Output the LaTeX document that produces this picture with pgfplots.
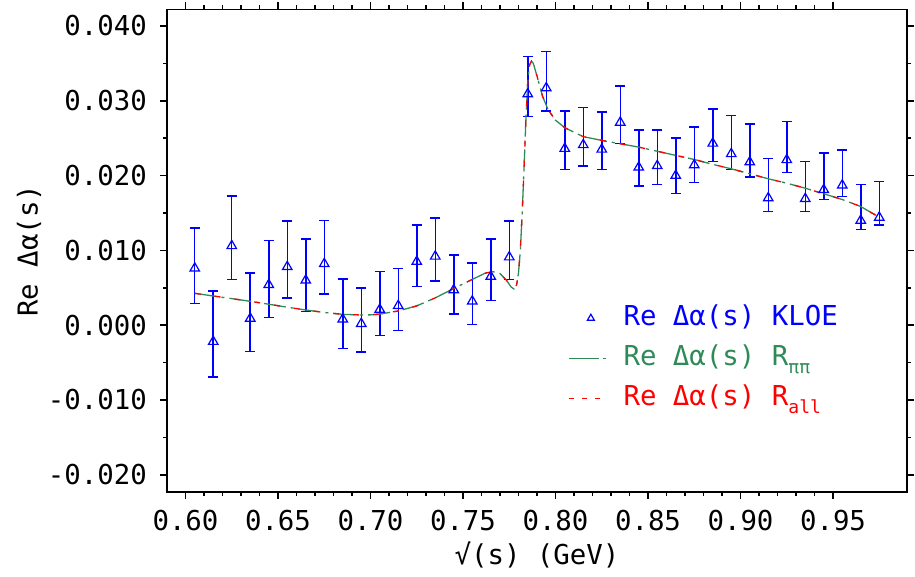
\documentclass[border=0pt]{standalone}
\usepackage{pgfplots}
\pgfplotsset{compat=1.18}
\usepackage{pgfplotstable}
\usepackage{fontspec}
\setmainfont{DejaVu Sans Mono}
\definecolor{kblue}{RGB}{0,0,255}
\definecolor{kgreen}{RGB}{46,139,87}
\definecolor{kred}{RGB}{255,0,0}
\newcommand{\sub}[1]{\raisebox{-0.3em}{\fontsize{18}{18}\selectfont #1}}

\pgfplotstableread{
x y ep em
0.605 0.0076 0.0054 0.0047
0.615 -0.0022 0.0068 0.0047
0.625 0.0106 0.0067 0.0045
0.635 0.0009 0.0061 0.0044
0.645 0.0054 0.0059 0.0044
0.655 0.0078 0.0061 0.0042
0.665 0.0060 0.0055 0.0042
0.675 0.0082 0.0058 0.0040
0.685 0.0008 0.0054 0.0039
0.695 0.0002 0.0048 0.0038
0.705 0.0021 0.0051 0.0035
0.715 0.0026 0.0050 0.0033
0.725 0.0085 0.0049 0.0033
0.735 0.0092 0.0051 0.0033
0.745 0.0047 0.0047 0.0032
0.755 0.0032 0.0051 0.0031
0.765 0.0065 0.0050 0.0032
0.775 0.0091 0.0048 0.0030
0.785 0.0309 0.0050 0.0030
0.795 0.0317 0.0049 0.0031
0.805 0.0236 0.0050 0.0028
0.815 0.0241 0.0050 0.0028
0.825 0.0235 0.0050 0.0027
0.835 0.0271 0.0049 0.0028
0.845 0.0211 0.0050 0.0025
0.855 0.0213 0.0048 0.0025
0.865 0.0200 0.0050 0.0024
0.875 0.0214 0.0051 0.0023
0.885 0.0243 0.0046 0.0024
0.895 0.0229 0.0051 0.0021
0.905 0.0218 0.0051 0.0020
0.915 0.0170 0.0053 0.0018
0.925 0.0221 0.0051 0.0017
0.935 0.0169 0.0050 0.0017
0.945 0.0181 0.0049 0.0013
0.955 0.0187 0.0047 0.0015
0.965 0.0140 0.0048 0.0012
0.975 0.0144 0.0048 0.0010
}\kloe

\pgfplotstableread{
x y
0.605 0.00426
0.615 0.00390
0.625 0.00355
0.635 0.00319
0.645 0.00280
0.655 0.00240
0.665 0.00203
0.675 0.00170
0.685 0.00145
0.695 0.00136
0.700 0.00138
0.705 0.00148
0.715 0.00190
0.725 0.00258
0.735 0.00365
0.745 0.00490
0.755 0.00612
0.762 0.00695
0.766 0.00716
0.770 0.00690
0.7735 0.00600
0.776 0.00510
0.7775 0.00485
0.779 0.00540
0.780 0.00700
0.781 0.01000
0.782 0.01500
0.783 0.02100
0.784 0.02750
0.785 0.03250
0.786 0.03480
0.787 0.03530
0.788 0.03500
0.790 0.03330
0.793 0.03060
0.796 0.02880
0.800 0.02740
0.805 0.02640
0.815 0.02520
0.825 0.02470
0.835 0.02425
0.845 0.02380
0.855 0.02325
0.865 0.02270
0.875 0.02215
0.885 0.02150
0.895 0.02090
0.905 0.02024
0.915 0.01957
0.925 0.01898
0.935 0.01831
0.945 0.01756
0.955 0.01680
0.965 0.01586
0.975 0.01443
}\curve

\begin{document}
\begin{tikzpicture}
\useasboundingbox (-167pt,-85pt) rectangle (748pt,492pt);
\begin{axis}[
  at={(0pt,0pt)}, anchor=south west,
  scale only axis, width=740pt, height=482.5pt,
  xmin=0.59, xmax=0.99, ymin=-0.0223, ymax=0.0422,
  font=\fontsize{27.4}{30}\selectfont,
  /pgf/number format/assume math mode=true,
  xtick={0.60,0.65,0.70,0.75,0.80,0.85,0.90,0.95},
  ytick={-0.02,-0.01,0,0.01,0.02,0.03,0.04},
  minor x tick num=4, minor y tick num=1,
  scaled x ticks=false, scaled y ticks=false,
  tick align=outside,
  xtick pos=both, ytick pos=both,
  major tick length=7pt, minor tick length=4pt,
  every tick/.style={black, line width=1.5pt},
  axis line style={line width=1.8pt},
  xticklabel style={inner sep=0pt, anchor=north, yshift=-11pt,
    /pgf/number format/fixed, /pgf/number format/fixed zerofill, /pgf/number format/precision=2},
  yticklabel style={inner sep=0pt, anchor=east, xshift=-13pt,
    /pgf/number format/fixed, /pgf/number format/fixed zerofill, /pgf/number format/precision=3},
  xlabel={√(s) (GeV)},
  ylabel={Re Δα(s)},
  xlabel style={at={(axis description cs:0.5,-0.1300)}, anchor=center, inner sep=0pt},
  ylabel style={at={(axis description cs:-0.1865,0.5)}, anchor=center, inner sep=0pt},
  legend style={at={(0.5419,0.3896)}, anchor=north west, draw=none, fill=none,
    inner sep=0pt, row sep=12pt, column sep=0pt,
    nodes={inner sep=0pt, text height=21pt, text depth=7pt},
    /tikz/every odd column/.append style={column sep=17pt}},
  legend cell align=left,
]
\addplot[kblue, only marks, mark=triangle, mark size=5.5pt,
  mark options={line width=1.2pt, fill=none, solid},
  legend image code/.code={\draw[kblue, solid, line width=1.2pt, mark=triangle, mark size=4pt] plot coordinates {(22pt,0pt)};
    \draw[draw=none] (0pt,0pt) -- (37pt,0pt);},
  error bars/.cd, y dir=both, y explicit,
  error bar style={line width=1.5pt, kblue, solid},
  error mark=-,
  error mark options={kblue, line width=1.5pt, mark size=5pt, rotate=90}]
  table[x=x, y=y, y error plus=ep, y error minus=em] {\kloe};
\addlegendentry{\textcolor{kblue}{Re Δα(s) KLOE}}
\addplot[kgreen, line width=1.3pt, dash pattern=on 22pt off 5pt on 3pt off 5pt,
  legend image code/.code={
    \draw[kgreen, solid, line width=1.3pt] (0pt,0pt) -- (30pt,0pt) (34pt,0pt) -- (37pt,0pt);}]
  table[x=x, y=y] {\curve};
\addlegendentry{\textcolor{kgreen}{Re Δα(s) R\sub{ππ}}}
\addplot[kred, line width=1.3pt, dash pattern=on 6pt off 14pt,
  legend image code/.code={
    \draw[kred, line width=1.3pt, dash pattern=on 5pt off 8pt] (0pt,0pt) -- (37pt,0pt);}]
  table[x=x, y=y] {\curve};
\addlegendentry{\textcolor{kred}{Re Δα(s) R\sub{all}}}
\end{axis}
\end{tikzpicture}
\end{document}
